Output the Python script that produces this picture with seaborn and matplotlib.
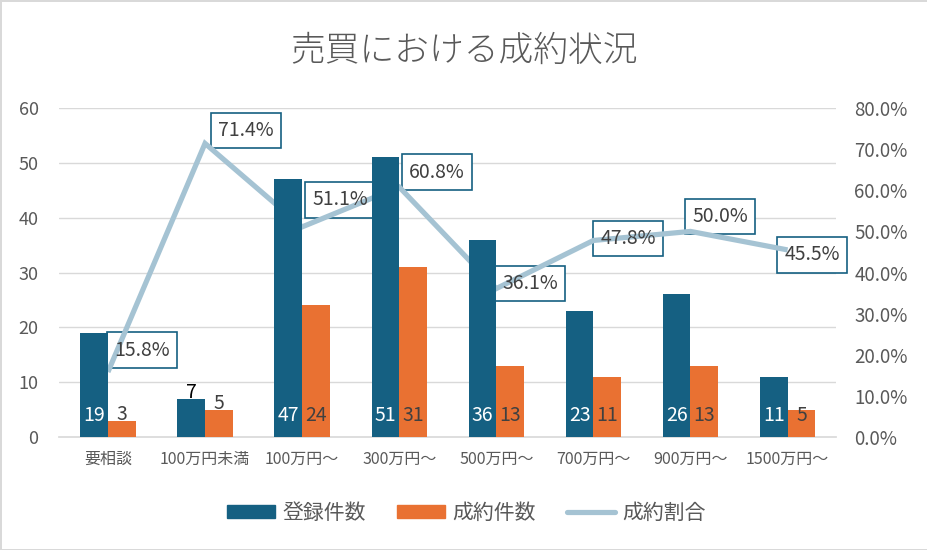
import numpy as np
import pandas as pd
import matplotlib.pyplot as plt
import matplotlib.ticker as mtick
import matplotlib.transforms as mtrans
from matplotlib.lines import Line2D
from matplotlib.patches import Patch
import seaborn as sns

sns.set_theme(style="white")
plt.rcParams['font.family'] = ['Noto Sans CJK JP', 'DejaVu Sans']

categories = ["要相談", "100万円未満", "100万円〜", "300万円〜",
              "500万円〜", "700万円〜", "900万円〜", "1500万円〜"]
registered = [19, 7, 47, 51, 36, 23, 26, 11]
contracted = [3, 5, 24, 31, 13, 11, 13, 5]
rate = [15.8, 71.4, 51.1, 60.8, 36.1, 47.8, 50.0, 45.5]
series_names = ["登録件数", "成約件数", "成約割合"]

blue = "#156082"
orange = "#E97132"
line_col = "#A5C3D3"
gray = "#595959"
dark = "#404040"
grid_col = "#D9D9D9"

df = pd.DataFrame({
    "cat": categories * 2,
    "val": registered + contracted,
    "series": [series_names[0]] * len(categories) + [series_names[1]] * len(categories),
})

fig = plt.figure(figsize=(9.28, 5.5), dpi=100)
fig.patch.set_edgecolor(grid_col)
fig.patch.set_linewidth(2)
ax = fig.add_axes([0.064, 0.2055, 0.837, 0.598])
ax2 = ax.twinx()

# bottom layer (ax2): gridlines, label boxes, line
ax.set_ylim(0, 60)
ax2.set_ylim(0, 80)
grid_tr = mtrans.blended_transform_factory(ax2.transAxes, ax.transData)
for g in range(10, 61, 10):
    ax2.plot([0, 1], [g, g], transform=grid_tr, color=grid_col, lw=1, zorder=0.5)

sns.lineplot(x=np.arange(len(categories)), y=rate, ax=ax2, color=line_col,
             linewidth=3.75, solid_joinstyle="miter", solid_capstyle="butt", zorder=3)
ax2.yaxis.set_major_locator(mtick.MultipleLocator(10))
ax2.yaxis.set_major_formatter(mtick.FuncFormatter(lambda v, p: f"{v:.1f}%"))

# label offsets (px): text left from point, text centre above point
offsets = [(6, 22), (13, 13), (10, 27), (10, 15), (6, 5), (7, 2), (2, 15), (-3, -5)]
for i, r in enumerate(rate):
    dx, dy = offsets[i]
    kw = dict(xytext=(dx * 0.72, dy * 0.72), textcoords="offset points",
              ha="left", va="center", fontsize=14)
    ax2.annotate(f"{r:.1f}%", (i, r), color="none", zorder=2,
                 bbox=dict(boxstyle="square,pad=0.37", fc="white", ec=blue, lw=1.2), **kw)
    ax.annotate(f"{r:.1f}%", (i, r), xycoords=ax2.transData, color=dark, zorder=6, **kw)

ax.set_zorder(ax2.get_zorder() + 1)
ax.patch.set_visible(False)

# top layer (ax): bars
sns.barplot(data=df, x="cat", y="val", hue="series", palette=[blue, orange],
            width=0.57, gap=0, saturation=1, linewidth=0, ax=ax, legend=False,
            order=categories, zorder=3)
ax.set_ylim(0, 60)
ax.set_xlim(-0.5, len(categories) - 0.5)
ax.yaxis.set_major_locator(mtick.MultipleLocator(10))
ax.grid(False)
ax.set_xlabel("")
ax.set_ylabel("")
ax2.set_ylabel("")

for a in (ax, ax2):
    for s in a.spines.values():
        s.set_visible(False)
    a.tick_params(length=0, colors=gray)
ax.spines["bottom"].set_visible(True)
ax.spines["bottom"].set_color(grid_col)
ax.tick_params(axis="y", labelsize=13, pad=15)
ax2.tick_params(axis="y", labelsize=13.5, pad=13)
ax.tick_params(axis="x", labelsize=11.5, pad=10)

# bar data labels
bw = 0.57 / 2
for i in range(len(categories)):
    for j, (vals, col) in enumerate(((registered, "white"), (contracted, dark))):
        v = vals[i]
        x = i - bw / 2 if j == 0 else i + bw / 2
        if i < 2 and v < 8:
            c = "black" if j == 0 else dark
            ax.annotate(str(v), (x, v), xytext=(0, 0.5), textcoords="offset points",
                        ha="center", va="baseline", fontsize=14, color=c, zorder=5)
        else:
            ax.annotate(str(v), (x, 0), xytext=(0, 11.5), textcoords="offset points",
                        ha="center", va="baseline", fontsize=14, color=col, zorder=5)

fig.suptitle("売買における成約状況", y=0.94, fontsize=25, color=gray, fontweight="light")

handles = [Patch(color=blue), Patch(color=orange),
           Line2D([], [], color=line_col, linewidth=3.75)]
fig.legend(handles, series_names, loc="center", bbox_to_anchor=(0.503, 0.067),
           ncol=3, frameon=False, fontsize=15, handlelength=2.3, handleheight=0.6,
           columnspacing=1.5, handletextpad=0.35, labelcolor=gray)

fig.savefig("out.png", dpi=100)
